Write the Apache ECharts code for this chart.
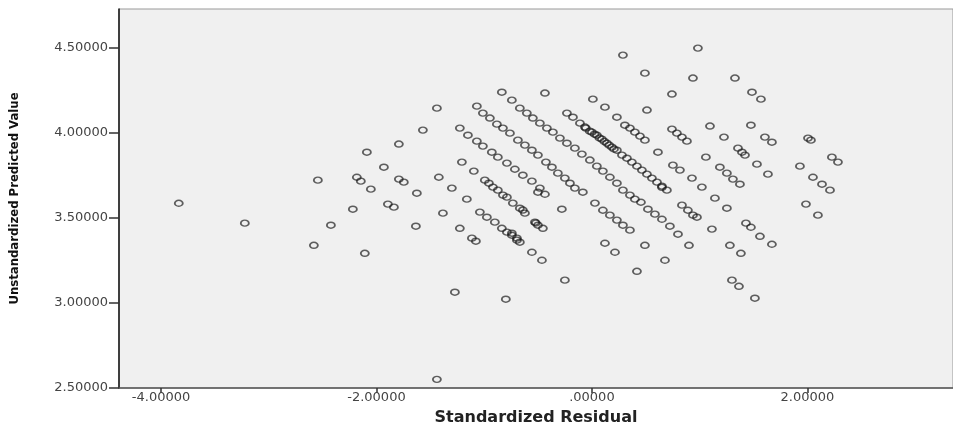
<!DOCTYPE html>
<html>
<head>
<meta charset="utf-8">
<script src="https://cdn.jsdelivr.net/npm/echarts@6/dist/echarts.min.js"></script>
<style>
html,body{margin:0;padding:0;background:#fff;}
#chart{width:953px;height:428px;}
</style>
</head>
<body>
<div id="chart"></div>
<script>
// Tick values
const xTicks = [-4, -2, 0, 2];
const yTicks = [2.5, 3.0, 3.5, 4.0, 4.5];
const xTitle = 'Standardized Residual';
const yTitle = 'Unstandardized Predicted Value';

// [standardized residual, unstandardized predicted value]
const scatteredPoints = [
[-3.835,3.586],[-3.222,3.469],[-2.581,3.339],[-2.544,3.722],[-2.423,3.457],[-2.219,3.551],[-2.089,3.886],[-2.182,3.739],[-2.145,3.716],[-2.052,3.669],[-2.108,3.292],[-1.931,3.798],[-1.894,3.581],[-1.838,3.563],[-1.792,3.934],[-1.792,3.728],[-1.746,3.710],[-1.625,3.645],[-1.569,4.016],[-1.439,4.145],[-1.068,4.157],[-1.634,3.451],[-1.421,3.739],[-1.300,3.675],[-1.383,3.528],[-1.207,3.828],[-1.096,3.775],[-1.161,3.610],[-1.226,3.439],[-1.114,3.381],[-1.077,3.363],[-1.272,3.063],[-0.799,3.022],[-1.439,2.551],[-0.436,4.234],[-0.251,3.134],[-0.279,3.551]
];
const band30 = [
[-1.040,3.534],[-0.975,3.504],[-0.901,3.475],[-0.836,3.439],[-0.789,3.416],[-0.743,3.398],[-0.696,3.369],[-0.557,3.298],[-0.464,3.251],[-0.743,3.410],[-0.696,3.381],[-0.669,3.357]
];
const band32 = [
[-0.994,3.722],[-0.956,3.704],[-0.919,3.681],[-0.873,3.663],[-0.826,3.634],[-0.789,3.622],[-0.734,3.587],[-0.669,3.557],[-0.641,3.546],[-0.622,3.528],[-0.529,3.475],[-0.501,3.457],[-0.455,3.439],[-0.520,3.470]
];
const band34 = [
[-1.226,4.028],[-1.151,3.986],[-1.068,3.951],[-1.012,3.922],[-0.929,3.886],[-0.873,3.857],[-0.789,3.822],[-0.715,3.786],[-0.641,3.751],[-0.557,3.716],[-0.483,3.675],[-0.436,3.639],[-0.501,3.651],[0.121,3.351],[0.214,3.298],[0.418,3.186]
];
const band36 = [
[-1.012,4.116],[-0.947,4.087],[-0.882,4.051],[-0.826,4.028],[-0.761,3.998],[-0.687,3.957],[-0.622,3.928],[-0.557,3.898],[-0.501,3.869],[-0.427,3.828],[-0.371,3.798],[-0.316,3.763],[-0.251,3.734],[-0.204,3.704],[-0.158,3.675],[-0.084,3.651],[0.028,3.587],[0.102,3.545],[0.167,3.516],[0.232,3.487],[0.288,3.457],[0.353,3.428],[0.492,3.339],[0.678,3.251]
];
const band38 = [
[-0.836,4.239],[-0.743,4.192],[-0.669,4.145],[-0.604,4.116],[-0.548,4.087],[-0.483,4.057],[-0.418,4.028],[-0.362,4.004],[-0.297,3.969],[-0.232,3.939],[-0.158,3.910],[-0.093,3.875],[-0.019,3.840],[0.046,3.804],[0.102,3.775],[0.167,3.739],[0.232,3.704],[0.288,3.663],[0.353,3.634],[0.399,3.610],[0.455,3.592],[0.520,3.551],[0.585,3.522],[0.650,3.492],[0.724,3.451],[0.799,3.404],[0.901,3.339],[1.300,3.134],[1.365,3.098],[1.513,3.028]
];
const band40 = [
[-0.232,4.116],[-0.176,4.092],[-0.111,4.057],[-0.056,4.028],[0.000,4.004],[0.046,3.986],[0.093,3.963],[0.139,3.939],[0.186,3.916],[0.232,3.898],[0.279,3.869],[0.325,3.851],[0.371,3.828],[0.418,3.804],[0.464,3.781],[0.511,3.757],[0.557,3.734],[0.604,3.710],[0.650,3.687],[0.696,3.663],[0.836,3.575],[0.891,3.545],[0.938,3.516],[0.975,3.504],[1.114,3.434],[1.281,3.339],[1.383,3.292],
[-0.065,4.034],[-0.020,4.010],[0.025,3.992],[0.070,3.970],[0.115,3.950],[0.160,3.928],[0.205,3.905],[0.650,3.680]
];
const band42 = [
[0.009,4.198],[0.121,4.151],[0.232,4.092],[0.306,4.045],[0.353,4.028],[0.399,4.004],[0.446,3.981],[0.492,3.957],[0.613,3.886],[0.752,3.810],[0.817,3.781],[0.929,3.734],[1.021,3.681],[1.142,3.616],[1.253,3.557],[1.430,3.469],[1.476,3.445],[1.560,3.392],[1.671,3.345]
];
const band44 = [
[0.511,4.134],[0.743,4.022],[0.789,3.998],[0.836,3.975],[0.882,3.951],[1.058,3.857],[1.188,3.798],[1.253,3.763],[1.309,3.728],[1.374,3.698]
];
const band46 = [
[0.288,4.457],[0.492,4.351],[0.743,4.228],[1.096,4.040],[1.226,3.975],[1.356,3.910],[1.393,3.886],[1.421,3.869],[1.532,3.816],[1.634,3.757],[1.987,3.581],[2.098,3.516]
];
const band48 = [
[0.938,4.322],[1.476,4.045],[1.606,3.975],[1.671,3.945],[1.931,3.804],[2.052,3.739],[2.136,3.698],[2.210,3.663]
];
const band50 = [
[0.984,4.498],[1.328,4.322],[1.486,4.239],[1.569,4.198],[2.006,3.969],[2.033,3.957],[2.228,3.857],[2.284,3.828]
];

const allPoints = [].concat(scatteredPoints, band30, band32, band34, band36, band38, band40, band42, band44, band46, band48, band50);

function fmt(v) {
  let s = Number(v).toFixed(5);
  if (s.startsWith('0')) s = s.slice(1);
  else if (s.startsWith('-0')) s = '-' + s.slice(2);
  return s;
}

const chart = echarts.init(document.getElementById('chart'), null, {renderer: 'canvas'});
chart.setOption({
  animation: false,
  backgroundColor: '#ffffff',
  grid: {
    left: 119, right: 0, top: 9, bottom: 40,
    containLabel: false,
    outerBoundsMode: 'none',
    show: true, backgroundColor: '#f0f0f0', borderColor: '#999999', borderWidth: 1
  },
  xAxis: {
    type: 'value',
    min: -4.39, max: 3.352,
    name: xTitle,
    nameLocation: 'middle',
    nameGap: 22,
    nameTextStyle: {fontFamily: 'DejaVu Sans', fontWeight: 'bold', fontSize: 16, color: '#222'},
    axisLine: {show: true, onZero: false, lineStyle: {color: '#555', width: 1.5}},
    axisTick: {show: true, length: 5, customValues: xTicks, lineStyle: {color: '#333', width: 1.5}},
    axisLabel: {customValues: xTicks, formatter: fmt, margin: 3, fontFamily: 'DejaVu Sans', fontSize: 13, color: '#444'},
    splitLine: {show: false}
  },
  yAxis: {
    type: 'value',
    min: 2.5, max: 4.728,
    name: yTitle,
    nameLocation: 'middle',
    nameRotate: 90,
    nameGap: 98,
    nameTextStyle: {fontFamily: "'Liberation Sans Narrow', 'Arial Narrow', 'DejaVu Sans Condensed', sans-serif", fontWeight: 'bold', fontSize: 13, color: '#111'},
    axisLine: {show: true, onZero: false, lineStyle: {color: '#111', width: 1.5}},
    axisTick: {show: true, length: 10, customValues: yTicks, lineStyle: {color: '#333', width: 1.5}},
    axisLabel: {customValues: yTicks, formatter: fmt, margin: 11, fontFamily: 'DejaVu Sans', fontSize: 13, color: '#444'},
    splitLine: {show: false}
  },
  series: [{
    type: 'scatter',
    data: allPoints,
    symbol: 'circle',
    symbolSize: [8, 6],
    itemStyle: {color: 'rgba(0,0,0,0)', borderColor: 'rgba(25,25,25,0.85)', borderWidth: 1.6},
    emphasis: {disabled: true}
  }]
});
</script>
</body>
</html>
